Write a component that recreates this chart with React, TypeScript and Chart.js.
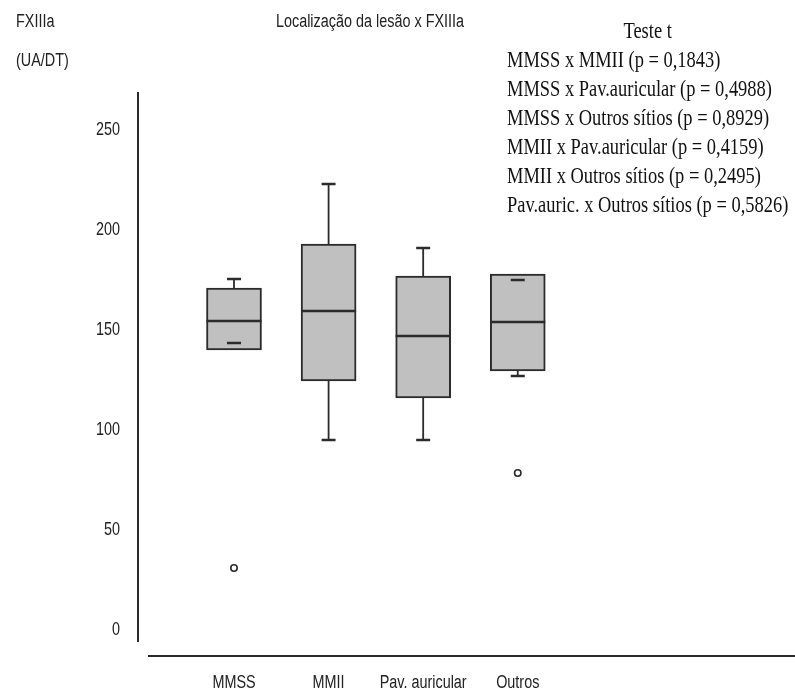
import React, { useEffect, useRef } from 'react';
import { Chart, registerables } from 'chart.js';

Chart.register(...registerables);

// ---- data ----
const categories = ['MMSS', 'MMII', 'Pav. auricular', 'Outros'];
const whiskerHigh = [175.5, 223, 191, 175];
const q3 = [171, 193, 177, 178];
const medians = [154.5, 159.5, 147, 154];
const q1 = [140, 124.5, 116, 129.5];
const whiskerLow = [143.5, 95, 95, 127];
const outlierCategory = [1, 4];
const outlierValues = [31, 78.5];
const yTicks = [0, 50, 100, 150, 200, 250];

const chartTitle = 'Localização da lesão x FXIIIa';
const yTitleLines = ['FXIIIa', '(UA/DT)'];
const testTitle = 'Teste t';
const testLines = [
  'MMSS x MMII (p = 0,1843)',
  'MMSS x Pav.auricular (p = 0,4988)',
  'MMSS x Outros sítios (p = 0,8929)',
  'MMII x Pav.auricular (p = 0,4159)',
  'MMII x Outros sítios (p = 0,2495)',
  'Pav.auric. x Outros sítios (p = 0,5826)',
];

const INK = '#2b2b2b';
const SANS = "'Liberation Sans', Arial, sans-serif";
const SQUEEZE = 0.8;

function squeezedText(ctx: CanvasRenderingContext2D, text: string, x: number, y: number, align: CanvasTextAlign) {
  ctx.save();
  ctx.translate(x, y);
  ctx.scale(SQUEEZE, 1);
  ctx.textAlign = align;
  ctx.textBaseline = 'middle';
  ctx.fillText(text, 0, 0);
  ctx.restore();
}

const boxPlugin = {
  id: 'boxWhiskers',
  beforeDatasetsDraw(chart: any) {
    const { ctx, chartArea } = chart;
    const xs = chart.scales.x;
    const ys = chart.scales.y;
    ctx.save();
    ctx.strokeStyle = INK;
    ctx.lineWidth = 1.8;
    categories.forEach((_, i) => {
      const cx = xs.getPixelForValue(i + 1);
      if (whiskerHigh[i] > q3[i]) {
        ctx.beginPath();
        ctx.moveTo(cx, ys.getPixelForValue(q3[i]));
        ctx.lineTo(cx, ys.getPixelForValue(whiskerHigh[i]));
        ctx.stroke();
      }
      if (whiskerLow[i] < q1[i]) {
        ctx.beginPath();
        ctx.moveTo(cx, ys.getPixelForValue(q1[i]));
        ctx.lineTo(cx, ys.getPixelForValue(whiskerLow[i]));
        ctx.stroke();
      }
    });
    // detached x axis line
    ctx.lineWidth = 2;
    ctx.beginPath();
    ctx.moveTo(chartArea.left + 10, chartArea.bottom + 15);
    ctx.lineTo(chart.width, chartArea.bottom + 15);
    ctx.stroke();
    ctx.restore();
  },
  afterDatasetsDraw(chart: any) {
    const { ctx } = chart;
    const xs = chart.scales.x;
    const ys = chart.scales.y;
    const meta = chart.getDatasetMeta(0);
    ctx.save();
    ctx.strokeStyle = INK;
    categories.forEach((_, i) => {
      const cx = xs.getPixelForValue(i + 1);
      const bar = meta.data[i];
      const half = bar ? bar.width / 2 : 27;
      ctx.lineWidth = 2.5;
      const my = ys.getPixelForValue(medians[i]);
      ctx.beginPath();
      ctx.moveTo(cx - half, my);
      ctx.lineTo(cx + half, my);
      ctx.stroke();
      [whiskerHigh[i], whiskerLow[i]].forEach((v) => {
        const py = ys.getPixelForValue(v);
        ctx.beginPath();
        ctx.moveTo(cx - 7, py);
        ctx.lineTo(cx + 7, py);
        ctx.stroke();
      });
    });
    ctx.restore();
  },
  afterDraw(chart: any) {
    const { ctx, chartArea } = chart;
    const xs = chart.scales.x;
    const ys = chart.scales.y;
    ctx.save();
    ctx.fillStyle = '#222';
    ctx.font = `18px ${SANS}`;
    ys.ticks.forEach((t: any) => {
      squeezedText(ctx, String(t.value), chartArea.left - 18, ys.getPixelForValue(t.value), 'right');
    });
    xs.ticks.forEach((t: any, i: number) => {
      squeezedText(ctx, categories[i], xs.getPixelForValue(t.value), chartArea.bottom + 42, 'center');
    });
    ctx.restore();
  },
};

export default function App() {
  const canvasRef = useRef<HTMLCanvasElement | null>(null);

  useEffect(() => {
    const canvas = canvasRef.current;
    if (!canvas) return;
    const chart = new Chart(canvas, {
      type: 'bar',
      data: {
        datasets: [
          {
            type: 'bar',
            data: categories.map((_, i) => ({ x: i + 1, y: [q1[i], q3[i]] })) as any,
            backgroundColor: '#c0c0c0',
            borderColor: INK,
            borderWidth: 2,
            borderSkipped: false,
            barThickness: 55,
          } as any,
          {
            type: 'scatter',
            data: outlierValues.map((v, i) => ({ x: outlierCategory[i], y: v })),
            pointRadius: 3.2,
            pointBorderWidth: 1.6,
            borderColor: INK,
            backgroundColor: '#ffffff',
          } as any,
        ],
      },
      options: {
        animation: false,
        responsive: false,
        maintainAspectRatio: false,
        layout: { padding: { top: 93, right: 5, bottom: 0, left: 0 } },
        plugins: {
          legend: { display: false },
          tooltip: { enabled: false },
          title: { display: false },
        },
        scales: {
          x: {
            type: 'linear',
            min: -0.015,
            max: 6.872,
            offset: false,
            grid: { display: false, drawTicks: false },
            border: { display: false },
            afterBuildTicks: (s: any) => {
              s.ticks = categories.map((_, i) => ({ value: i + 1 }));
            },
            afterFit: (s: any) => {
              s.height = 50;
            },
            ticks: { display: false },
          },
          y: {
            type: 'linear',
            min: -5.5,
            max: 268.5,
            grid: { display: false, drawTicks: false },
            border: { display: true, color: INK, width: 2 },
            afterBuildTicks: (s: any) => {
              s.ticks = yTicks.map((v) => ({ value: v }));
            },
            afterFit: (s: any) => {
              s.width = 138;
            },
            ticks: { display: false },
          },
        },
      } as any,
      plugins: [boxPlugin],
    });
    return () => chart.destroy();
  }, []);

  const sans: React.CSSProperties = {
    position: 'absolute',
    fontFamily: SANS,
    fontSize: 18,
    lineHeight: '20px',
    color: '#222',
    whiteSpace: 'nowrap',
    transformOrigin: 'left top',
    transform: `scaleX(${SQUEEZE})`,
  };

  return (
    <div style={{ position: 'fixed', left: 0, top: 0, width: 795, height: 691, background: '#fff', overflow: 'hidden' }}>
      <canvas ref={canvasRef} width={795} height={691} style={{ display: 'block', width: 795, height: 691 }} />
      <div style={{ ...sans, left: 370, top: 11, transformOrigin: 'center top', transform: `translateX(-50%) scaleX(${SQUEEZE})` }}>
        {chartTitle}
      </div>
      <div style={{ ...sans, left: 16, top: 11 }}>{yTitleLines[0]}</div>
      <div style={{ ...sans, left: 16, top: 50 }}>{yTitleLines[1]}</div>
      <div
        style={{
          position: 'absolute',
          left: 507,
          top: 16,
          fontFamily: "'Liberation Serif', 'Times New Roman', serif",
          fontSize: 22.5,
          lineHeight: '29px',
          color: '#111',
          whiteSpace: 'nowrap',
          transform: 'scaleX(0.82)',
          transformOrigin: 'left top',
          display: 'inline-block',
        }}
      >
        <div style={{ textAlign: 'center' }}>{testTitle}</div>
        {testLines.map((t) => (
          <div key={t}>{t}</div>
        ))}
      </div>
    </div>
  );
}
